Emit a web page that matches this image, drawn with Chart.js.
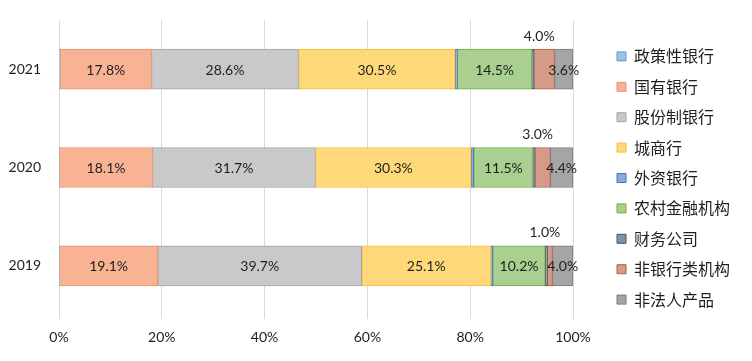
<!DOCTYPE html>
<html>
<head>
<meta charset="utf-8">
<script src="https://cdn.jsdelivr.net/npm/chart.js@4"></script>
<style>
  html, body { margin: 0; padding: 0; background: #fff; }
  #wrap { width: 752px; height: 361px; }
</style>
</head>
<body>
<div id="wrap"><canvas id="shareChart" width="752" height="361"></canvas></div>
<script>
// categories, top to bottom
const years = ['2021', '2020', '2019'];
const seriesNames = ['政策性银行', '国有银行', '股份制银行', '城商行', '外资银行', '农村金融机构', '财务公司', '非银行类机构', '非法人产品'];

// shares in percent, one array per series, same order as years
const policyBanks   = [0.2, 0.1, 0.1];
const stateBanks    = [17.8, 18.1, 19.1];
const jointStock    = [28.6, 31.7, 39.7];
const cityBanks     = [30.5, 30.3, 25.1];
const foreignBanks  = [0.4, 0.5, 0.4];
const ruralFinance  = [14.5, 11.5, 10.2];
const financeCos    = [0.4, 0.4, 0.4];
const nonBank       = [4.0, 3.0, 1.0];
const nonLegal      = [3.6, 4.4, 4.0];

const xTicks = [0, 20, 40, 60, 80, 100];

const fills   = ['#9dc3e6', '#f8b394', '#c9c9c9', '#ffd87a', '#8ea9db', '#a9d08e', '#7d92ad', '#d69a88', '#a5a5a5'];
const borders = ['#5b9bd5', '#e5956e', '#a5a5a5', '#f2be3a', '#4472c4', '#70ad47', '#44546a', '#a9624e', '#7b7b7b'];

const allSeries = [policyBanks, stateBanks, jointStock, cityBanks, foreignBanks, ruralFinance, financeCos, nonBank, nonLegal];
const labelInside = [1, 2, 3, 5, 8];
const labelAbove = 7;

const segmentLabels = {
  id: 'segmentLabels',
  afterDatasetsDraw(chart) {
    const ctx = chart.ctx;
    ctx.save();
    ctx.font = '14px Lato';
    ctx.fillStyle = '#1e1e1e';
    ctx.textAlign = 'center';
    ctx.textBaseline = 'middle';
    chart.data.datasets.forEach((ds, i) => {
      if (!labelInside.includes(i) && i !== labelAbove) return;
      chart.getDatasetMeta(i).data.forEach((bar, j) => {
        const txt = ds.data[j].toFixed(1) + '%';
        const cx = (bar.x + bar.base) / 2;
        if (i === labelAbove) {
          ctx.fillText(txt, cx - 5, bar.y - bar.height / 2 - 13);
        } else {
          ctx.fillText(txt, cx, bar.y + 1);
        }
      });
    });
    ctx.restore();
  }
};

// keep the plot area 59..573 and park the legend further right
const legendSpot = {
  id: 'legendSpot',
  beforeLayout(chart) {
    const lg = chart.legend;
    if (lg && !lg._fixedFit) {
      const fit = lg.fit;
      lg.fit = function () { fit.call(this); this.width = 179; };
      lg._fixedFit = true;
    }
  },
  afterLayout(chart) {
    const lg = chart.legend;
    lg.left = 602.6;
    lg.top = 34;
    lg.bottom = 361;
  }
};

document.addEventListener('DOMContentLoaded', function () {
  const ctx = document.getElementById('shareChart');
  new Chart(ctx, {
    type: 'bar',
    data: {
      labels: years,
      datasets: allSeries.map((vals, i) => ({
        label: seriesNames[i],
        data: vals,
        backgroundColor: fills[i],
        borderColor: borders[i],
        borderWidth: 1,
        borderSkipped: false,
        barThickness: 40
      }))
    },
    options: {
      indexAxis: 'y',
      responsive: false,
      animation: false,
      layout: { padding: { top: 20, left: 0, right: 0, bottom: 0 } },
      scales: {
        x: {
          stacked: true,
          min: 0,
          max: 100,
          afterBuildTicks: s => { s.ticks = xTicks.map(v => ({ value: v })); },
          afterFit: s => { s.height = 46; },
          ticks: {
            callback: v => v + '%',
            color: '#1e1e1e',
            font: { family: 'Lato', size: 14 },
            padding: 10
          },
          grid: { color: '#d9d9d9', tickLength: 4 },
          border: { display: false }
        },
        y: {
          stacked: true,
          afterFit: s => { s.width = 59; },
          ticks: {
            color: '#1e1e1e',
            font: { family: 'Lato', size: 14 },
            padding: 10
          },
          grid: { display: false },
          border: { display: false }
        }
      },
      plugins: {
        legend: {
          position: 'right',
          align: 'start',
          labels: {
            boxWidth: 9,
            boxHeight: 9,
            padding: 14.4,
            color: '#1e1e1e',
            font: { family: 'Noto Sans CJK SC', size: 16 }
          }
        },
        tooltip: { enabled: false }
      }
    },
    plugins: [segmentLabels, legendSpot]
  });
});
</script>
</body>
</html>
